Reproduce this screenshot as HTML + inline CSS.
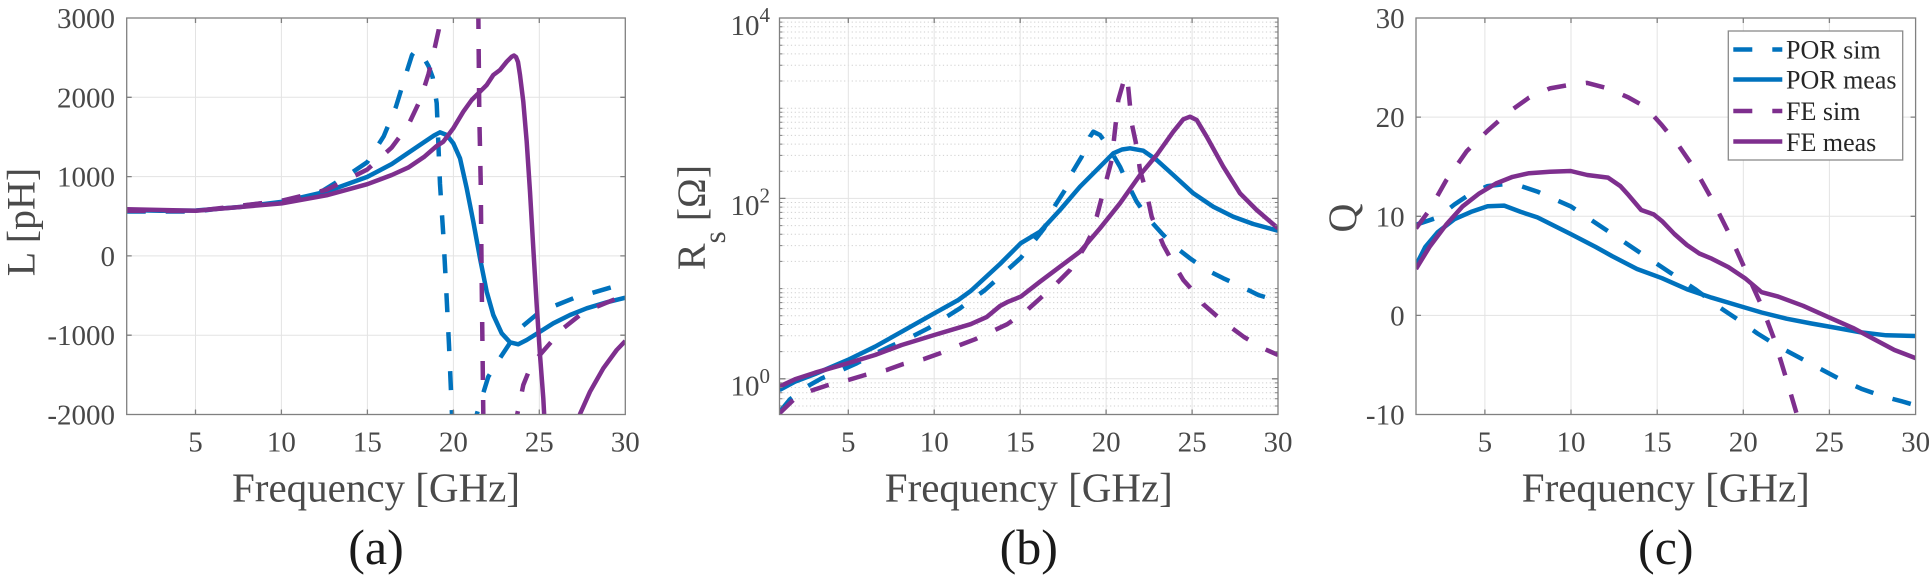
<!DOCTYPE html>
<html>
<head>
<meta charset="utf-8">
<style>
  html, body { margin: 0; padding: 0; background: #ffffff; }
  svg { display: block; font-family: "Liberation Serif", "DejaVu Serif", serif; }
  svg text, svg tspan { font-family: "Liberation Serif", "DejaVu Serif", serif; }
</style>
</head>
<body>
<svg width="1931" height="578" viewBox="0 0 1931 578" xmlns="http://www.w3.org/2000/svg" font-family="'Liberation Serif', 'DejaVu Serif', serif">
  <defs>
    <clipPath id="ca"><rect x="126.7" y="18" width="498.6" height="396.5"/></clipPath>
    <clipPath id="cb"><rect x="779.5" y="18" width="498.5" height="396.5"/></clipPath>
    <clipPath id="cc"><rect x="1416" y="18" width="499.6" height="396.5"/></clipPath>
  </defs>
  <rect width="1931" height="578" fill="#ffffff"/>

  <!-- ================= PANEL A ================= -->
  <g stroke="#e3e3e3" stroke-width="1" fill="none">
    <path d="M195.5,18V414.5M281.4,18V414.5M367.4,18V414.5M453.4,18V414.5M539.3,18V414.5"/>
    <path d="M126.7,97.3H625.3M126.7,176.6H625.3M126.7,255.9H625.3M126.7,335.2H625.3"/>
  </g>
  <g clip-path="url(#ca)" fill="none" stroke-width="4.5" stroke-linejoin="round">
    <path stroke="#0072BD" stroke-dasharray="19 20" d="M126.7,211.5 L195.9,211.5 L281.6,200.8 L318.4,193.4 L351,173.2 L367.3,162.1 L383.7,136.3 L395.9,106.9 L406.1,73.7 L412,55 L416.3,49.7 L421,53 L428.6,66.3 L432.7,77.4 L436.7,103.2 L440,184 L443.3,235 L446,285 L449,345 L452,414.5 L453,430"/>
    <path stroke="#0072BD" stroke-dasharray="19 20" d="M474,430 L476.7,414.5 L488.3,376.7 L500,358 L513.3,338 L520,328.3 L540,311.7 L556.7,305 L573.3,298.3 L586.7,294.5 L610,287.7 L625.3,283.3"/>
    <path stroke="#0072BD" d="M126.7,210 L160,210.8 L195.9,210.5 L240,207 L281.6,201.9 L326.5,191.6 L367.3,176.9 L391.8,164 L408.2,152.9 L424.5,141.9 L434,135.5 L440,132.3 L446.7,135 L453.3,143.3 L460,158.3 L466.7,188.3 L473.3,221.7 L480,258.3 L486.7,291.7 L493.3,315 L501.7,333.3 L510,342.3 L518.3,344.3 L526.7,340 L540,331.7 L553.3,323.3 L570,315 L586.7,308.3 L606.7,302.3 L625.3,297.7"/>
    <path stroke="#7E2F8E" stroke-dasharray="19 20" d="M126.7,210.8 L195.9,211 L281.6,200.8 L326.5,189.8 L367.3,169.5 L391.8,147.4 L408.2,125.3 L420.4,99.5 L428.6,73.7 L434.7,47.9 L438.8,29.5 L441,10"/>
    <path stroke="#7E2F8E" stroke-dasharray="19 20" d="M478.3,10 L479.3,115 L480.7,181.7 L481.7,281.7 L483.3,414.5 L483.5,430"/>
    <path stroke="#7E2F8E" stroke-dasharray="19 20" d="M516,430 L517.3,414 L523.3,385 L530,368.3 L538.3,356.7 L550,343.3 L563.3,328.3 L580,315 L596.7,306.7 L625.3,295"/>
    <path stroke="#7E2F8E" d="M126.7,209.3 L195.9,210.8 L281.6,203.4 L326.5,195.3 L367.3,184.2 L391.8,175 L408.2,167.6 L424.5,156.6 L436.7,146 L443.3,141.7 L453.3,128.3 L463.3,111.7 L471.7,100 L480,91.7 L486.7,85 L493.3,75 L500,70 L506.7,61.7 L511.7,56.7 L514,55.5 L516,57 L518,62 L520,75 L523.3,101.7 L526.7,141.7 L530,191.7 L533.3,248.3 L536.7,305 L540,355 L543.3,398.3 L545,430"/>
    <path stroke="#7E2F8E" d="M578,430 L580,414 L590,391.7 L603.3,368.3 L616.7,350 L625.3,341"/>
  </g>
  <g stroke="#808080" stroke-width="1.3" fill="none">
    <rect x="126.7" y="18" width="498.6" height="396.5"/>
    <path d="M195.5,414.5v-5M281.4,414.5v-5M367.4,414.5v-5M453.4,414.5v-5M539.3,414.5v-5M195.5,18v5M281.4,18v5M367.4,18v5M453.4,18v5M539.3,18v5"/>
    <path d="M126.7,97.3h5M126.7,176.6h5M126.7,255.9h5M126.7,335.2h5M625.3,97.3h-5M625.3,176.6h-5M625.3,255.9h-5M625.3,335.2h-5"/>
  </g>
  <g fill="#484848" font-size="29" text-anchor="end" font-family="'Liberation Serif', serif">
    <text x="115" y="28">3000</text>
    <text x="115" y="107.3">2000</text>
    <text x="115" y="186.6">1000</text>
    <text x="115" y="265.9">0</text>
    <text x="115" y="345.2">-1000</text>
    <text x="115" y="424.5">-2000</text>
  </g>
  <g fill="#484848" font-size="29" text-anchor="middle" font-family="'Liberation Serif', serif">
    <text x="195.5" y="451.5">5</text>
    <text x="281.4" y="451.5">10</text>
    <text x="367.4" y="451.5">15</text>
    <text x="453.4" y="451.5">20</text>
    <text x="539.3" y="451.5">25</text>
    <text x="625.3" y="451.5">30</text>
  </g>
  <text transform="translate(34.7,222) rotate(-90)" text-anchor="middle" font-size="40" fill="#4a4a4a" font-family="'Liberation Serif', serif">L [pH]</text>
  <text x="376" y="501.5" text-anchor="middle" font-size="41" fill="#4a4a4a" font-family="'Liberation Serif', serif">Frequency [GHz]</text>
  <text x="376" y="564" text-anchor="middle" font-size="50" fill="#1a1a1a" font-family="'Liberation Serif', serif">(a)</text>

  <!-- ================= PANEL B ================= -->
  <g stroke="#cfcfcf" stroke-width="1" fill="none" stroke-dasharray="1.2 2.6">
    <path d="M779.5,406H1278M779.5,398.8H1278M779.5,392.8H1278M779.5,387.5H1278M779.5,382.9H1278M779.5,351.6H1278M779.5,335.8H1278M779.5,324.5H1278M779.5,315.8H1278M779.5,308.6H1278M779.5,302.6H1278M779.5,297.3H1278M779.5,292.7H1278M779.5,288.6H1278M779.5,261.4H1278M779.5,245.6H1278M779.5,234.3H1278M779.5,225.6H1278M779.5,218.4H1278M779.5,212.4H1278M779.5,207.1H1278M779.5,202.5H1278M779.5,171.2H1278M779.5,155.4H1278M779.5,144.1H1278M779.5,135.4H1278M779.5,128.2H1278M779.5,122.2H1278M779.5,116.9H1278M779.5,112.3H1278M779.5,108.2H1278M779.5,81H1278M779.5,65.2H1278M779.5,53.9H1278M779.5,45.2H1278M779.5,38H1278M779.5,32H1278M779.5,26.7H1278M779.5,22.1H1278"/>
  </g>
  <g stroke="#e3e3e3" stroke-width="1" fill="none">
    <path d="M848.3,18V414.5M934.2,18V414.5M1020.2,18V414.5M1106.1,18V414.5M1192.1,18V414.5"/>
    <path d="M779.5,198.4H1278M779.5,378.8H1278"/>
  </g>
  <g clip-path="url(#cb)" fill="none" stroke-width="4.5" stroke-linejoin="round">
    <path stroke="#0072BD" stroke-dasharray="19 20" d="M779.5,412 L790,399.3 L806.7,386.7 L821.7,378.3 L841.7,370 L856.7,363.3 L876.7,352.7 L893.3,345 L911.7,336.7 L928.3,328.3 L946.7,316.7 L960,308.3 L985,290 L1020.8,257.9 L1044.1,228.4 L1053.3,208.3 L1065,190 L1071.7,173.3 L1081.7,156.7 L1090,136.7 L1093.3,131.7 L1100,135 L1108.3,146.7 L1120,166.7 L1128.3,185 L1136.7,201.7 L1148.3,218.3 L1161.7,233.3 L1175,246.7 L1190,258.3 L1206.7,270 L1223.3,278.3 L1241.7,286.7 L1258.3,295 L1278,301"/>
    <path stroke="#0072BD" d="M779.5,390 L795,381.7 L815,374 L847.7,360 L875,346.7 L901.7,331.7 L934.3,313.3 L958.3,300 L970.6,291.1 L1000,264 L1020.8,243.2 L1040,231.7 L1060,210 L1080,186.7 L1100,166.7 L1113.3,153.3 L1122,149.5 L1130,148.3 L1143.3,150.7 L1156.7,160 L1173.3,175 L1193.3,193.3 L1213.3,206.7 L1233.3,216.7 L1253.3,224 L1278,230.7"/>
    <path stroke="#7E2F8E" stroke-dasharray="19 20" d="M779.5,413.3 L793.3,400 L800,395 L811,390.7 L828.3,385 L848.3,380 L865,375 L886.7,370 L903.3,364 L923.3,359.3 L941.7,352.7 L960,345 L975,339.3 L1007.3,324.2 L1027.8,309.5 L1048.2,291.1 L1056.7,283.3 L1070,270 L1085,246.7 L1090,236.7 L1096.7,216.7 L1111.7,160 L1118.3,100 L1125,76.7 L1126.5,76 L1128,85 L1131.7,123.3 L1136.7,146.7 L1140,170 L1146.7,193.3 L1151.7,216.7 L1163.3,245 L1173.3,263.3 L1183.3,280 L1196.7,295 L1203,304 L1223.7,322 L1244,337 L1264.5,349 L1278,355"/>
    <path stroke="#7E2F8E" d="M779.5,386.5 L795,379.3 L815,372.7 L847.7,363.3 L875,355 L901.7,345 L934.3,335 L970.6,324.2 L986.9,316.9 L1000,306 L1007.3,302.1 L1020.8,296.6 L1040,281.7 L1060,266.7 L1080,251.7 L1100,228.3 L1120,203.3 L1140,175 L1156.7,155 L1173.3,131.7 L1183.3,119.3 L1190,116.7 L1196.7,120 L1206.7,136.7 L1223.3,166.7 L1240,193.3 L1256.7,210 L1278,228.3"/>
  </g>
  <g stroke="#808080" stroke-width="1.3" fill="none">
    <rect x="779.5" y="18" width="498.5" height="396.5"/>
    <path d="M848.3,414.5v-5M934.2,414.5v-5M1020.2,414.5v-5M1106.1,414.5v-5M1192.1,414.5v-5M848.3,18v5M934.2,18v5M1020.2,18v5M1106.1,18v5M1192.1,18v5"/>
    <path d="M779.5,198.4h6M779.5,378.8h6M1278,198.4h-6M1278,378.8h-6"/>
    <path stroke-width="1" d="M779.5,406h3M779.5,398.8h3M779.5,392.8h3M779.5,387.5h3M779.5,382.9h3M779.5,351.6h3M779.5,335.8h3M779.5,324.5h3M779.5,315.8h3M779.5,308.6h3M779.5,302.6h3M779.5,297.3h3M779.5,292.7h3M779.5,288.6h3M779.5,261.4h3M779.5,245.6h3M779.5,234.3h3M779.5,225.6h3M779.5,218.4h3M779.5,212.4h3M779.5,207.1h3M779.5,202.5h3M779.5,171.2h3M779.5,155.4h3M779.5,144.1h3M779.5,135.4h3M779.5,128.2h3M779.5,122.2h3M779.5,116.9h3M779.5,112.3h3M779.5,108.2h3M779.5,81h3M779.5,65.2h3M779.5,53.9h3M779.5,45.2h3M779.5,38h3M779.5,32h3M779.5,26.7h3M779.5,22.1h3"/>
    <path stroke-width="1" d="M1278,406h-3M1278,398.8h-3M1278,392.8h-3M1278,387.5h-3M1278,382.9h-3M1278,351.6h-3M1278,335.8h-3M1278,324.5h-3M1278,315.8h-3M1278,308.6h-3M1278,302.6h-3M1278,297.3h-3M1278,292.7h-3M1278,288.6h-3M1278,261.4h-3M1278,245.6h-3M1278,234.3h-3M1278,225.6h-3M1278,218.4h-3M1278,212.4h-3M1278,207.1h-3M1278,202.5h-3M1278,171.2h-3M1278,155.4h-3M1278,144.1h-3M1278,135.4h-3M1278,128.2h-3M1278,122.2h-3M1278,116.9h-3M1278,112.3h-3M1278,108.2h-3M1278,81h-3M1278,65.2h-3M1278,53.9h-3M1278,45.2h-3M1278,38h-3M1278,32h-3M1278,26.7h-3M1278,22.1h-3"/>
  </g>
  <g fill="#484848" font-size="29" text-anchor="end" font-family="'Liberation Serif', serif">
    <text x="770" y="34.8">10<tspan font-size="21" dy="-12.8">4</tspan></text>
    <text x="770" y="215.2">10<tspan font-size="21" dy="-12.8">2</tspan></text>
    <text x="770" y="395.6">10<tspan font-size="21" dy="-12.8">0</tspan></text>
  </g>
  <g fill="#484848" font-size="29" text-anchor="middle" font-family="'Liberation Serif', serif">
    <text x="848.3" y="451.5">5</text>
    <text x="934.2" y="451.5">10</text>
    <text x="1020.2" y="451.5">15</text>
    <text x="1106.1" y="451.5">20</text>
    <text x="1192.1" y="451.5">25</text>
    <text x="1278" y="451.5">30</text>
  </g>
  <text transform="translate(705,217.5) rotate(-90)" text-anchor="middle" font-size="40" fill="#4a4a4a" font-family="'Liberation Serif', serif">R<tspan font-size="31" dy="20">s</tspan><tspan dy="-20"> [Ω]</tspan></text>
  <text x="1028.8" y="501.5" text-anchor="middle" font-size="41" fill="#4a4a4a" font-family="'Liberation Serif', serif">Frequency [GHz]</text>
  <text x="1028.8" y="564" text-anchor="middle" font-size="50" fill="#1a1a1a" font-family="'Liberation Serif', serif">(b)</text>

  <!-- ================= PANEL C ================= -->
  <g stroke="#e3e3e3" stroke-width="1" fill="none">
    <path d="M1484.9,18V414.5M1571,18V414.5M1657.2,18V414.5M1743.3,18V414.5M1829.4,18V414.5"/>
    <path d="M1416,117.1H1915.6M1416,216.3H1915.6M1416,315.4H1915.6"/>
  </g>
  <g clip-path="url(#cc)" fill="none" stroke-width="4.5" stroke-linejoin="round">
    <path stroke="#0072BD" stroke-dasharray="19 20" d="M1416,224.8 L1437.8,217.4 L1454.4,204.5 L1471,193.4 L1487.6,186.1 L1504.2,184.2 L1520.8,186.1 L1537.4,191.6 L1570.6,206.3 L1603.8,228.4 L1637,250.6 L1670.3,272.7 L1695.2,289.2 L1720.1,307.7 L1736.7,318.7 L1757.5,333.5 L1778.2,346.4 L1799,357.4 L1819.7,368.5 L1840.5,379.5 L1861.2,388.7 L1882,396.1 L1902.8,401.6 L1915.6,405.3"/>
    <path stroke="#0072BD" d="M1416,265.3 L1425.3,246.9 L1437.8,232.1 L1454.4,219.2 L1471,211.9 L1487.6,206.3 L1504.2,205.6 L1520.8,211.9 L1537.4,217.4 L1570.6,234 L1595.5,246.9 L1612.1,256.1 L1637,269 L1662,278.2 L1686.9,289.2 L1711.8,297.7 L1736.7,305.1 L1761.6,312.5 L1786.5,318.7 L1811.4,323.5 L1836.3,327.9 L1861.2,332.4 L1886.2,335.3 L1915.6,336"/>
    <path stroke="#7E2F8E" stroke-dasharray="19 20" d="M1416,228.4 L1429.5,210 L1446.1,180.5 L1466.8,151.1 L1487.6,130.8 L1508.3,112.4 L1529.1,97.6 L1549.9,88.4 L1570.6,84.7 L1587.2,82.9 L1608,88.4 L1628.7,97.6 L1645.4,106.9 L1662,125.3 L1678.6,145.5 L1695.2,169.5 L1711.8,199 L1728.4,232.1 L1745,269 L1761.6,305.8 L1774.1,339 L1786.5,379.5 L1796.9,414.5 L1800,425"/>
    <path stroke="#7E2F8E" d="M1416,269 L1429.5,246.9 L1446.1,224.8 L1462.7,206.3 L1479.3,193.4 L1495.9,183.5 L1512.5,176.9 L1529.1,173.2 L1549.9,171.7 L1570.6,171 L1587.2,175 L1608,177.6 L1620.4,186.1 L1628.7,195.3 L1641.2,210 L1653.7,214.4 L1662,221.1 L1674.4,234 L1686.9,245 L1699.3,253.5 L1711.8,258.7 L1728.4,267.1 L1745,278.2 L1761.6,292.2 L1778.2,296.6 L1803.1,305.8 L1828,316.9 L1852.9,327.9 L1873.7,339 L1894.4,350 L1915.6,358.1"/>
  </g>
  <g stroke="#808080" stroke-width="1.3" fill="none">
    <rect x="1416" y="18" width="499.6" height="396.5"/>
    <path d="M1484.9,414.5v-5M1571,414.5v-5M1657.2,414.5v-5M1743.3,414.5v-5M1829.4,414.5v-5M1484.9,18v5M1571,18v5M1657.2,18v5M1743.3,18v5M1829.4,18v5"/>
    <path d="M1416,117.1h5M1416,216.3h5M1416,315.4h5M1915.6,117.1h-5M1915.6,216.3h-5M1915.6,315.4h-5"/>
  </g>
  <g fill="#484848" font-size="29" text-anchor="end" font-family="'Liberation Serif', serif">
    <text x="1404.6" y="28">30</text>
    <text x="1404.6" y="127.1">20</text>
    <text x="1404.6" y="226.3">10</text>
    <text x="1404.6" y="325.4">0</text>
    <text x="1404.6" y="424.5">-10</text>
  </g>
  <g fill="#484848" font-size="29" text-anchor="middle" font-family="'Liberation Serif', serif">
    <text x="1484.9" y="451.5">5</text>
    <text x="1571" y="451.5">10</text>
    <text x="1657.2" y="451.5">15</text>
    <text x="1743.3" y="451.5">20</text>
    <text x="1829.4" y="451.5">25</text>
    <text x="1915.6" y="451.5">30</text>
  </g>
  <text transform="translate(1356,218) rotate(-90)" text-anchor="middle" font-size="40" fill="#4a4a4a" font-family="'Liberation Serif', serif">Q</text>
  <text x="1665.8" y="501.5" text-anchor="middle" font-size="41" fill="#4a4a4a" font-family="'Liberation Serif', serif">Frequency [GHz]</text>
  <text x="1665.8" y="564" text-anchor="middle" font-size="50" fill="#1a1a1a" font-family="'Liberation Serif', serif">(c)</text>

  <!-- Legend -->
  <rect x="1728.3" y="31" width="174.4" height="129" fill="#ffffff" stroke="#8a8a8a" stroke-width="1.3"/>
  <g fill="none" stroke-width="4.5">
    <path stroke="#0072BD" stroke-dasharray="19 20" d="M1733.3,49.5H1782.3"/>
    <path stroke="#0072BD" d="M1733.3,79.5H1782.3"/>
    <path stroke="#7E2F8E" stroke-dasharray="19 20" d="M1733.3,111H1782.3"/>
    <path stroke="#7E2F8E" d="M1733.3,141.5H1782.3"/>
  </g>
  <g fill="#262626" font-size="26" font-family="'Liberation Serif', serif">
    <text x="1786" y="58.5">POR sim</text>
    <text x="1786" y="88.5">POR meas</text>
    <text x="1786" y="120">FE sim</text>
    <text x="1786" y="151">FE meas</text>
  </g>
</svg>
</body>
</html>
